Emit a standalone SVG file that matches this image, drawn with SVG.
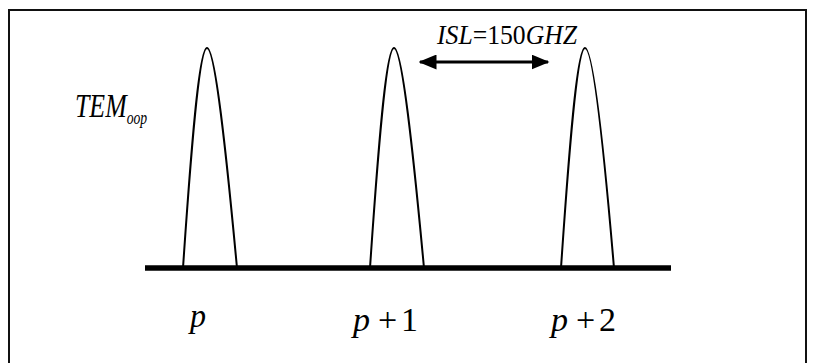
<svg xmlns="http://www.w3.org/2000/svg" width="814" height="363" viewBox="0 0 814 363">
<style>
.peak{fill:none;stroke:#000;stroke-width:2}
.t{font-family:"Liberation Serif","Times New Roman",serif;fill:#000}
.i{font-style:italic}
</style>
<defs>
<marker id="ah" markerWidth="6" markerHeight="5" refX="5.5" refY="2.5" orient="auto-start-reverse" markerUnits="strokeWidth"><path d="M0,0 L6,2.5 L0,5 Z" fill="#000"/></marker>
</defs>
<rect width="814" height="363" fill="#fff"/>
<path d="M9,363 V10 H806 V363" fill="none" stroke="#111" stroke-width="2"/>
<g id="axis"><line x1="145" y1="268" x2="671" y2="268" stroke="#000" stroke-width="5.5"/></g>
<g id="peak1"><path class="peak" d="M183,268 C191,150 199,48 207,48 C215,48 226,150 237,268"/></g>
<g id="peak2"><path class="peak" d="M370,268 C378,150 386,48 394,48 C402,48 413,150 424,268"/></g>
<g id="peak3"><path class="peak" d="M561,268 C569,150 577,48 585,48 C593,48 604,150 614,268"/></g>
<g id="connectors"><line x1="420" y1="62" x2="548" y2="62" stroke="#000" stroke-width="3" marker-start="url(#ah)" marker-end="url(#ah)"/></g>
<g id="labels">
<text class="t" x="437" y="44" font-size="27" textLength="140" lengthAdjust="spacingAndGlyphs"><tspan class="i">ISL</tspan>=150<tspan class="i">GHZ</tspan></text>
<text class="t i" transform="translate(75,117) scale(0.76,1)" x="0" y="0" font-size="34">TEM<tspan font-size="18" dy="7">oop</tspan></text>
<text class="t i" x="190" y="327" font-size="34" textLength="16" lengthAdjust="spacingAndGlyphs">p</text>
<text class="t" y="331" font-size="34"><tspan class="i" x="353">p</tspan><tspan x="378">+</tspan><tspan x="401">1</tspan></text>
<text class="t" y="331" font-size="34"><tspan class="i" x="551">p</tspan><tspan x="576">+</tspan><tspan x="599">2</tspan></text>
</g>
</svg>
